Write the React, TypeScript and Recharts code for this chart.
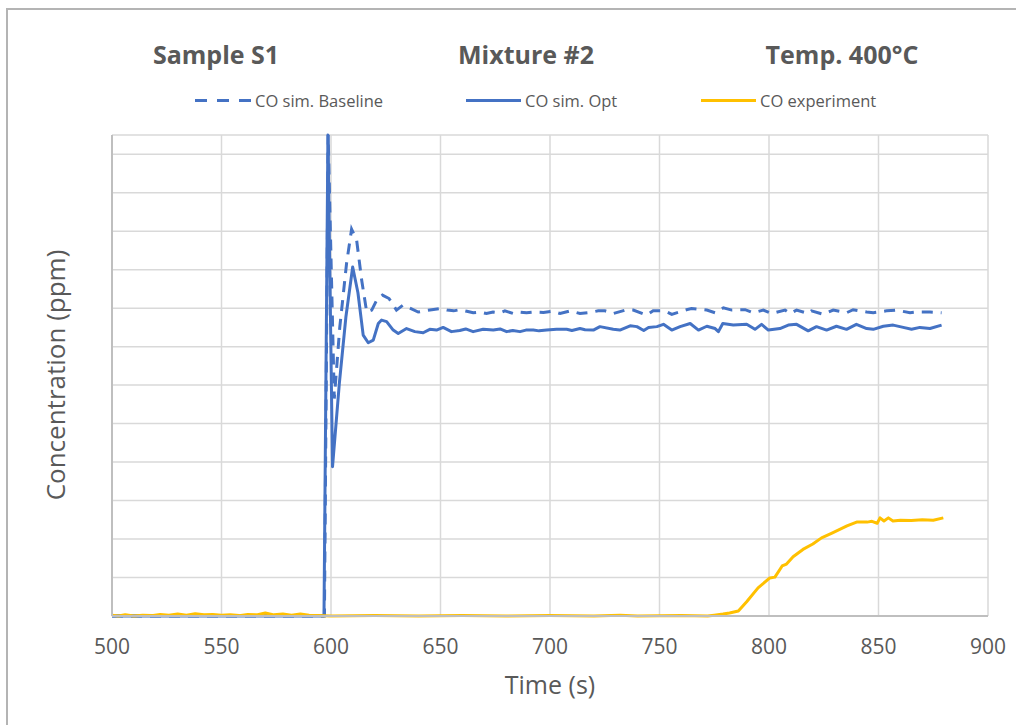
import React from 'react';
import { LineChart, Line, XAxis, YAxis, CartesianGrid } from 'recharts';

const FONT = '"Open Sans", sans-serif';
const TEXT = '#595959';
const BLUE = '#4472C4';
const GOLD = '#FFC000';

const xTicks = [500, 550, 600, 650, 700, 750, 800, 850, 900];
const yTicks = [0, 1, 2, 3, 4, 5, 6, 7, 8, 9, 10, 11, 12];
const titles = ['Sample S1', 'Mixture #2', 'Temp. 400°C'];
const seriesNames = ['CO sim. Baseline', 'CO sim. Opt', 'CO experiment'];
const xTitle = 'Time (s)';
const yTitle = 'Concentration (ppm)';

// [time (s), concentration (grid units)]
const baseline: [number, number][] = [
  [500, 0], [597.0, 0], [598.7, 12.5], [601.5, 5.65], [604.0, 7.5], [607.1, 9.16], [609.4, 10.05],
  [611.7, 9.77], [614.0, 8.73], [616.3, 7.9], [618.6, 7.95], [620.8, 8.2], [623.5, 8.34], [626.5, 8.25],
  [629.9, 7.95], [632.9, 8.08], [636.0, 8.0], [639.8, 7.9], [642.8, 7.93], [646.0, 7.96], [649.7, 7.99],
  [653.0, 7.95], [656.0, 7.93], [658.8, 7.96], [662.0, 7.92], [664.9, 7.88], [668.0, 7.9], [671.0, 7.86],
  [674.0, 7.9], [677.2, 7.88], [679.4, 7.93], [683.2, 7.86], [686.0, 7.9], [689.3, 7.88], [693.0, 7.9],
  [697.0, 7.89], [701.0, 7.92], [704.6, 7.86], [709.2, 7.93], [713.7, 7.86], [718.3, 7.89], [722.0, 7.93],
  [725.1, 7.93], [728.9, 7.86], [735.0, 7.96], [738.0, 7.95], [744.1, 7.82], [747.1, 7.93], [752.4, 7.93],
  [755.6, 7.84], [762.3, 7.96], [764.6, 7.99], [771.6, 7.95], [775.4, 7.88], [779.2, 8.01], [783.0, 7.95],
  [789.1, 7.96], [792.8, 7.88], [797.4, 7.95], [801.2, 7.86], [807.3, 7.95], [809.6, 7.86], [812.6, 7.95],
  [817.9, 7.86], [819.4, 7.93], [824.8, 7.84], [829.3, 7.95], [835.4, 7.88], [838.4, 7.96], [844.6, 7.9],
  [847.6, 7.88], [853.7, 7.93], [858.3, 7.95], [864.4, 7.88], [867.4, 7.9], [873.5, 7.9], [878.8, 7.88],
];

const optimized: [number, number][] = [
  [500, 0], [596.8, 0], [598.6, 12.5], [600.7, 3.88], [603.8, 6.04], [606.8, 7.77], [609.9, 9.07],
  [612.3, 8.4], [614.7, 7.3], [617.0, 7.1], [619.3, 7.17], [621.6, 7.6], [623.1, 7.69], [625.4, 7.65],
  [628.4, 7.43], [630.7, 7.34], [634.5, 7.47], [638.3, 7.39], [642.1, 7.36], [645.1, 7.45], [648.2, 7.43],
  [651.2, 7.5], [655.0, 7.39], [658.8, 7.42], [661.5, 7.46], [664.9, 7.39], [669.5, 7.45], [674.1, 7.43],
  [677.2, 7.46], [680.2, 7.39], [683.0, 7.42], [686.3, 7.39], [689.0, 7.43], [692.4, 7.43], [695.0, 7.41],
  [698.5, 7.43], [703.0, 7.45], [707.6, 7.45], [710.0, 7.42], [713.7, 7.47], [716.0, 7.44], [719.8, 7.43],
  [722.8, 7.52], [728.9, 7.45], [731.9, 7.43], [736.6, 7.54], [739.7, 7.52], [742.8, 7.42], [745.0, 7.5],
  [748.8, 7.52], [751.8, 7.58], [755.6, 7.43], [759.4, 7.52], [764.0, 7.6], [767.8, 7.43], [771.6, 7.53],
  [775.4, 7.47], [776.9, 7.39], [778.9, 7.6], [783.7, 7.56], [789.8, 7.58], [793.6, 7.45], [796.6, 7.58],
  [799.7, 7.43], [805.0, 7.47], [808.8, 7.56], [812.6, 7.58], [817.9, 7.41], [821.7, 7.52], [826.3, 7.43],
  [830.8, 7.53], [835.4, 7.45], [839.9, 7.58], [844.6, 7.47], [847.6, 7.45], [852.2, 7.53], [856.7, 7.56],
  [861.3, 7.5], [865.1, 7.45], [868.9, 7.5], [873.5, 7.47], [878.8, 7.56],
];

const experiment: [number, number][] = [
  [500, 0.02], [503, 0.0], [506, 0.03], [510, 0.0], [514, 0.02], [518, 0.01], [522, 0.04], [526, 0.02],
  [530, 0.05], [534, 0.02], [538, 0.06], [542, 0.03], [546, 0.04], [550, 0.02], [554, 0.03], [558, 0.01],
  [562, 0.04], [566, 0.03], [570, 0.08], [574, 0.03], [578, 0.05], [582, 0.02], [586, 0.05], [590, 0.02],
  [594, 0.01], [600, 0.0], [620, 0.01], [640, 0.0], [660, 0.01], [680, 0.0], [700, 0.01], [720, 0.0],
  [732, 0.02], [740, 0.0], [760, 0.01], [772, 0.0], [775, 0.02], [779, 0.05], [782, 0.08], [786, 0.13],
  [789.8, 0.37], [795, 0.73], [800.4, 0.99], [802.7, 1.01], [806, 1.3], [808, 1.35], [811, 1.54],
  [815.5, 1.73], [820, 1.87], [824, 2.03], [829, 2.16], [835.6, 2.34], [840, 2.44], [844.8, 2.44],
  [847, 2.46], [849.4, 2.41], [850.7, 2.55], [852.5, 2.47], [854.5, 2.55], [856.6, 2.47], [860, 2.49],
  [865, 2.48], [870, 2.5], [875, 2.49], [879.6, 2.55],
];

const toRows = (pts: [number, number][]) => pts.map(([t, v]) => ({ t, v }));

export default function App() {
  return (
    <div style={{ position: 'absolute', left: 0, top: 0, width: 1016, height: 725, overflow: 'hidden', background: '#fff', fontFamily: FONT }}>
      <div style={{ position: 'absolute', left: 6, top: 8, width: 1010, height: 717, borderTop: '2px solid #b4b4b4', borderLeft: '2px solid #b4b4b4', boxSizing: 'border-box' }} />
      <div style={{ position: 'absolute', left: 0, top: 0 }}>
        <LineChart width={1016} height={725} margin={{ top: 135, right: 28, bottom: 69, left: 102 }}>
          <CartesianGrid stroke="#d9d9d9" strokeWidth={1.5} />
          <XAxis
            dataKey="t"
            type="number"
            domain={[500, 900]}
            ticks={xTicks}
            interval={0}
            height={40}
            tickLine={false}
            tickSize={0}
            tickMargin={23}
            axisLine={{ stroke: '#bfbfbf', strokeWidth: 2 }}
            tick={{ fill: TEXT, fontSize: 21, fontFamily: FONT }}
          />
          <YAxis
            type="number"
            domain={[0, 12.5]}
            ticks={yTicks}
            interval={0}
            width={10}
            tickLine={false}
            tickSize={0}
            axisLine={{ stroke: '#bfbfbf', strokeWidth: 2 }}
            tick={{ fill: 'transparent', fontSize: 1 }}
          />
          <Line data={toRows(baseline)} dataKey="v" name={seriesNames[0]} type="linear" stroke={BLUE} strokeWidth={3}
            strokeDasharray="11 8" dot={false} activeDot={false} isAnimationActive={false} />
          <Line data={toRows(optimized)} dataKey="v" name={seriesNames[1]} type="linear" stroke={BLUE} strokeWidth={3}
            strokeLinejoin="round" dot={false} activeDot={false} isAnimationActive={false} />
          <Line data={toRows(experiment)} dataKey="v" name={seriesNames[2]} type="linear" stroke={GOLD} strokeWidth={3}
            strokeLinejoin="round" dot={false} activeDot={false} isAnimationActive={false} />
        </LineChart>
      </div>
      <svg width={1016} height={725} style={{ position: 'absolute', left: 0, top: 0, pointerEvents: 'none' }}>
        <g fontFamily={FONT} fill={TEXT}>
          <text x={216} y={64} textAnchor="middle" fontSize={25} fontWeight={700}>{titles[0]}</text>
          <text x={526} y={64} textAnchor="middle" fontSize={25} fontWeight={700}>{titles[1]}</text>
          <text x={842} y={64} textAnchor="middle" fontSize={25} fontWeight={700}>{titles[2]}</text>

          <line x1={195} x2={251} y1={100.5} y2={100.5} stroke={BLUE} strokeWidth={3} strokeDasharray="12 10" />
          <text x={255} y={106.5} fontSize={16.5}>{seriesNames[0]}</text>
          <line x1={466} x2={521} y1={100.5} y2={100.5} stroke={BLUE} strokeWidth={3} />
          <text x={525} y={106.5} fontSize={16.5}>{seriesNames[1]}</text>
          <line x1={701} x2={756} y1={100.5} y2={100.5} stroke={GOLD} strokeWidth={3} />
          <text x={760} y={106.5} fontSize={16.5}>{seriesNames[2]}</text>

          <text x={550} y={694} textAnchor="middle" fontSize={25}>{xTitle}</text>
          <text x={65} y={375} textAnchor="middle" fontSize={26} transform="rotate(-90 65 375)">{yTitle}</text>
        </g>
      </svg>
    </div>
  );
}
